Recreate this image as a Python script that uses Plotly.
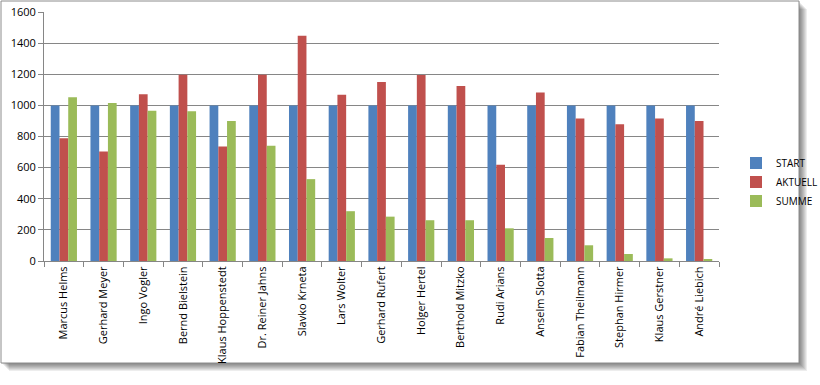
import plotly.graph_objects as go

names = ["Marcus Helms", "Gerhard Meyer", "Ingo Vogler", "Bernd Bielstein", "Klaus Hoppenstedt",
         "Dr. Reiner Jahns", "Slavko Krneta", "Lars Wolter", "Gerhard Rufert", "Holger Hertel",
         "Berthold Mitzko", "Rudi Arians", "Anselm Slotta", "Fabian Theilmann", "Stephan Hirmer",
         "Klaus Gerstner", "André Liebich"]
start = [1000] * 17
aktuell = [789, 703, 1072, 1197, 735, 1197, 1448, 1068, 1150, 1195, 1124, 618, 1083, 916, 879, 916, 899]
summe = [1053, 1015, 965, 963, 899, 740, 526, 320, 285, 262, 262, 210, 148, 101, 45, 17, 11]

W, H = 820, 385
L, R, T, B = 44, 719, 12, 261

def px(p):
    return (p - L) / (R - L)

def py(q):
    return (B - q) / (B - T)

fig = go.Figure()
fig.add_bar(x=names, y=start, name="START", marker=dict(color="#4F81BD", line=dict(width=0)))
fig.add_bar(x=names, y=aktuell, name="AKTUELL", marker=dict(color="#C0504D", line=dict(width=0)))
fig.add_bar(x=names, y=summe, name="SUMME", marker=dict(color="#9BBB59", line=dict(width=0)))

shapes = []
for k in range(1, 9):
    shapes.append(dict(type="rect", xref="paper", yref="paper", layer="below",
                       x0=px(1 + k), x1=px(799 + k), y0=py(1 + k), y1=py(363 + k),
                       fillcolor="rgba(0,0,0,0.07)", line=dict(width=0)))
shapes.append(dict(type="rect", xref="paper", yref="paper", layer="below",
                   x0=px(1), x1=px(799), y0=py(1), y1=py(363),
                   fillcolor="white", line=dict(color="#8c8c8c", width=1)))

fig.update_layout(
    width=W, height=H,
    margin=dict(l=L, r=W - R, t=T, b=H - B, autoexpand=False),
    paper_bgcolor="white", plot_bgcolor="rgba(0,0,0,0)",
    barmode="group", bargap=0.34, bargroupgap=0,
    font=dict(family="Open Sans", size=11, color="#000"),
    shapes=shapes,
    legend=dict(x=px(736), y=py(182), xanchor="left", yanchor="middle",
                font=dict(size=10), itemwidth=30, tracegroupgap=0, bgcolor="rgba(0,0,0,0)"),
    xaxis=dict(tickangle=-90, ticks="outside", tickson="boundaries", ticklen=5,
               tickcolor="#868686", showline=True, linecolor="#868686", linewidth=1,
               showgrid=False, tickfont=dict(size=11), automargin=False),
    yaxis=dict(range=[0, 1600], dtick=200, ticks="outside", ticklen=5, tickcolor="#868686",
               showline=True, linecolor="#868686", linewidth=1, gridcolor="#868686",
               gridwidth=1, tickfont=dict(size=11), zeroline=False, automargin=False),
)

fig.write_html("out.html")
